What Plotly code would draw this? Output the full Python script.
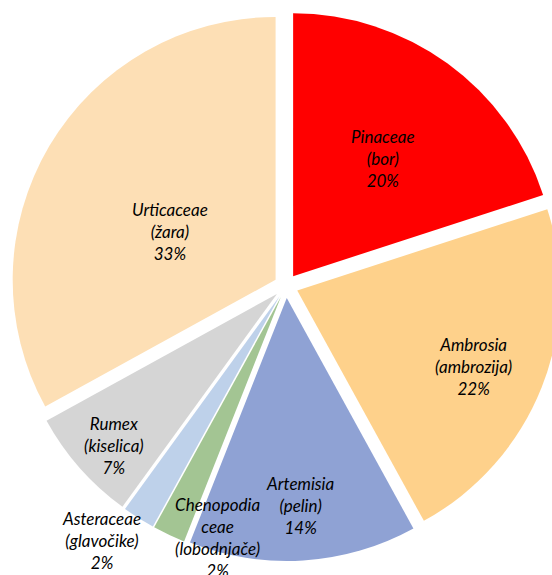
import plotly.graph_objects as go

# ---- data ----
names = ["Pinaceae", "Ambrosia", "Artemisia", "Chenopodiaceae", "Asteraceae", "Rumex", "Urticaceae"]
label_lines = [
    ["Pinaceae", "(bor)"],
    ["Ambrosia", "(ambrozija)"],
    ["Artemisia", "(pelin)"],
    ["Chenopodia", "ceae", "(lobodnjače)"],
    ["Asteraceae", "(glavočike)"],
    ["Rumex", "(kiselica)"],
    ["Urticaceae", "(žara)"],
]
shares = [20, 22, 14, 2, 2, 7, 33]

# ---- style ----
colors = ["#FF0000", "#FED18B", "#8FA2D4", "#A3C593", "#BED1EA", "#D5D5D5", "#FDDFB5"]
label_px = [(383, 158), (473, 366), (300, 505), (217, 537), (101, 540), (114, 445), (170, 231)]

W, H = 561, 575
ML, MT, MR, MB = 11, 11, 0, 14
PW, PH = W - ML - MR, H - MT - MB

fig = go.Figure(go.Pie(
    labels=names,
    values=shares,
    sort=False,
    direction="clockwise",
    rotation=0,
    pull=[0.046] * len(shares),
    marker=dict(colors=colors, line=dict(color="white", width=0)),
    textinfo="none",
    hoverinfo="label+percent",
    showlegend=False,
))

total = sum(shares)
annotations = []
for lines, v, (px, py) in zip(label_lines, shares, label_px):
    txt = "<br>".join(lines + [f"{round(100 * v / total)}%"])
    annotations.append(dict(
        text=f"<i>{txt}</i>",
        x=(px - ML) / PW, y=1 - (py - MT) / PH,
        xref="paper", yref="paper",
        xanchor="center", yanchor="middle",
        showarrow=False, align="center",
        font=dict(family="Lato, 'Open Sans', sans-serif", size=17, color="#000000"),
    ))

fig.update_layout(
    width=W, height=H,
    margin=dict(l=ML, r=MR, t=MT, b=MB, pad=0),
    paper_bgcolor="white",
    plot_bgcolor="white",
    annotations=annotations,
)

fig.write_html("out.html", post_script="document.documentElement.style.overflow='hidden';document.body.style.overflow='hidden';")
